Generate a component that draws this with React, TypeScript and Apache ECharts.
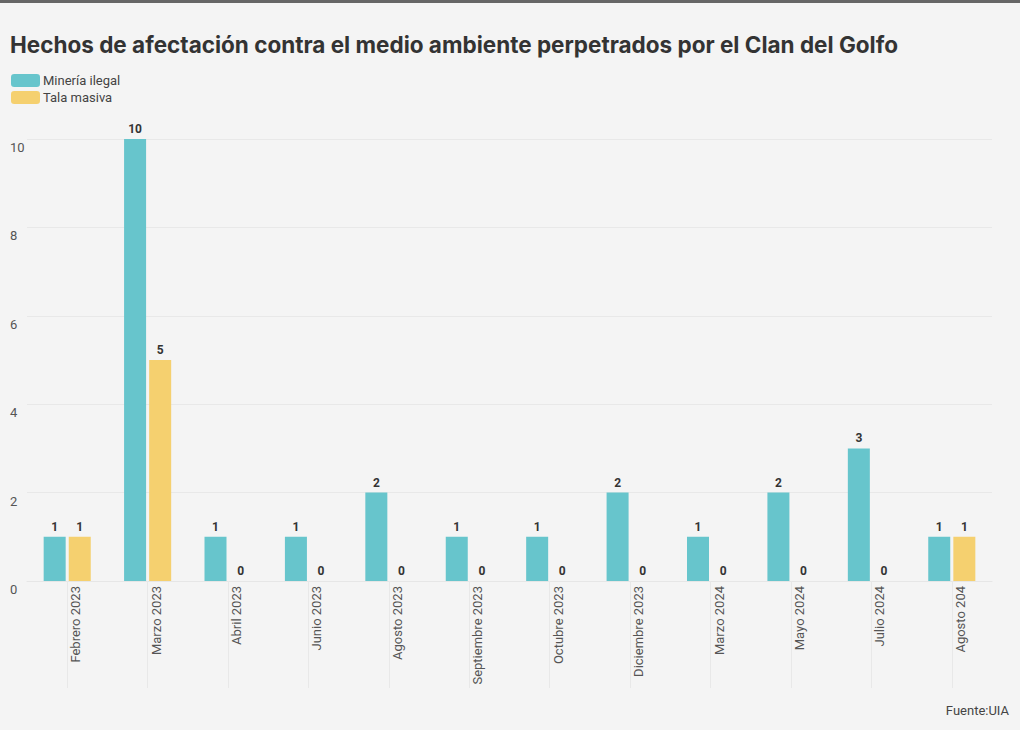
import React, { useEffect, useRef } from "react";
import * as echarts from "echarts";

const categories = [
  "Febrero 2023", "Marzo 2023", "Abril 2023", "Junio 2023", "Agosto 2023",
  "Septiembre 2023", "Octubre 2023", "Diciembre 2023", "Marzo 2024",
  "Mayo 2024", "Julio 2024", "Agosto 204",
];
const mineria = [1, 10, 1, 1, 2, 1, 1, 2, 1, 2, 3, 1];
const tala = [1, 5, 0, 0, 0, 0, 0, 0, 0, 0, 0, 1];
const yTicks = [0, 2, 4, 6, 8, 10];

const FONT = "Roboto, 'Noto Sans', sans-serif";

export default function App() {
  const ref = useRef<HTMLDivElement>(null);
  useEffect(() => {
    if (!ref.current) return;
    const chart = echarts.init(ref.current, null, { renderer: "svg" });
    const label = {
      show: true,
      position: "top",
      distance: 4,
      color: "#333",
      fontWeight: "bold",
      fontSize: 12,
      fontFamily: FONT,
    };
    chart.setOption({
      animation: false,
      backgroundColor: "#f4f4f4",
      textStyle: { fontFamily: FONT },
      title: {
        text: "Hechos de afectación contra el medio ambiente perpetrados por el Clan del Golfo",
        left: 10,
        top: 33,
        padding: 0,
        textStyle: { fontSize: 22.5, fontWeight: "bold", color: "#333", fontFamily: "Inter, Roboto, sans-serif" },
      },
      legend: {
        orient: "vertical",
        left: 11,
        top: 74,
        padding: 0,
        itemGap: 4,
        itemWidth: 29,
        itemHeight: 13,
        icon: "roundRect",
        textStyle: { fontSize: 13, color: "#444", fontFamily: FONT, padding: [0, 0, 0, -2] },
        data: ["Minería ilegal", "Tala masiva"],
      },
      graphic: [
        { type: "rect", left: 0, top: 0, shape: { width: 1020, height: 3 }, style: { fill: "#666" } },
        {
          type: "text",
          right: 11,
          top: 704,
          style: { text: "Fuente:UIA", fontSize: 13, fill: "#444", fontFamily: FONT },
        },
      ],
      grid: { left: 27, right: 28, top: 139, bottom: 149, containLabel: false },
      xAxis: {
        type: "category",
        data: categories,
        axisLine: { show: true, lineStyle: { color: "#e6e6e6" } },
        axisTick: { show: true, alignWithLabel: true, length: 107, lineStyle: { color: "#e8e8e8" } },
        axisLabel: {
          rotate: 90,
          interval: 0,
          verticalAlign: "top",
          margin: 5,
          fontSize: 13,
          color: "#555",
          fontFamily: FONT,
          padding: [2, 0, 0, 0],
        },
      },
      yAxis: {
        type: "value",
        min: 0,
        max: 10,
        interval: 2,
        axisLine: { show: false },
        axisTick: { show: false },
        splitLine: { show: true, lineStyle: { color: "#e8e8e8" } },
        axisLabel: {
          align: "left",
          verticalAlign: "top",
          margin: 17,
          fontSize: 13,
          color: "#555",
          fontFamily: FONT,
          padding: [2, 0, 0, 0],
          formatter: (v: number) => (yTicks.includes(v) ? String(v) : ""),
        },
      },
      series: [
        {
          name: "Minería ilegal",
          type: "bar",
          data: mineria,
          barWidth: 22,
          barGap: "14%",
          itemStyle: { color: "#67c5cc" },
          label,
        },
        {
          name: "Tala masiva",
          type: "bar",
          data: tala,
          barWidth: 22,
          barGap: "14%",
          itemStyle: { color: "#f5d06f" },
          label,
        },
      ],
    });
    return () => chart.dispose();
  }, []);
  return (
    <div
      ref={ref}
      style={{ position: "absolute", left: 0, top: 0, width: 1020, height: 730 }}
    />
  );
}
